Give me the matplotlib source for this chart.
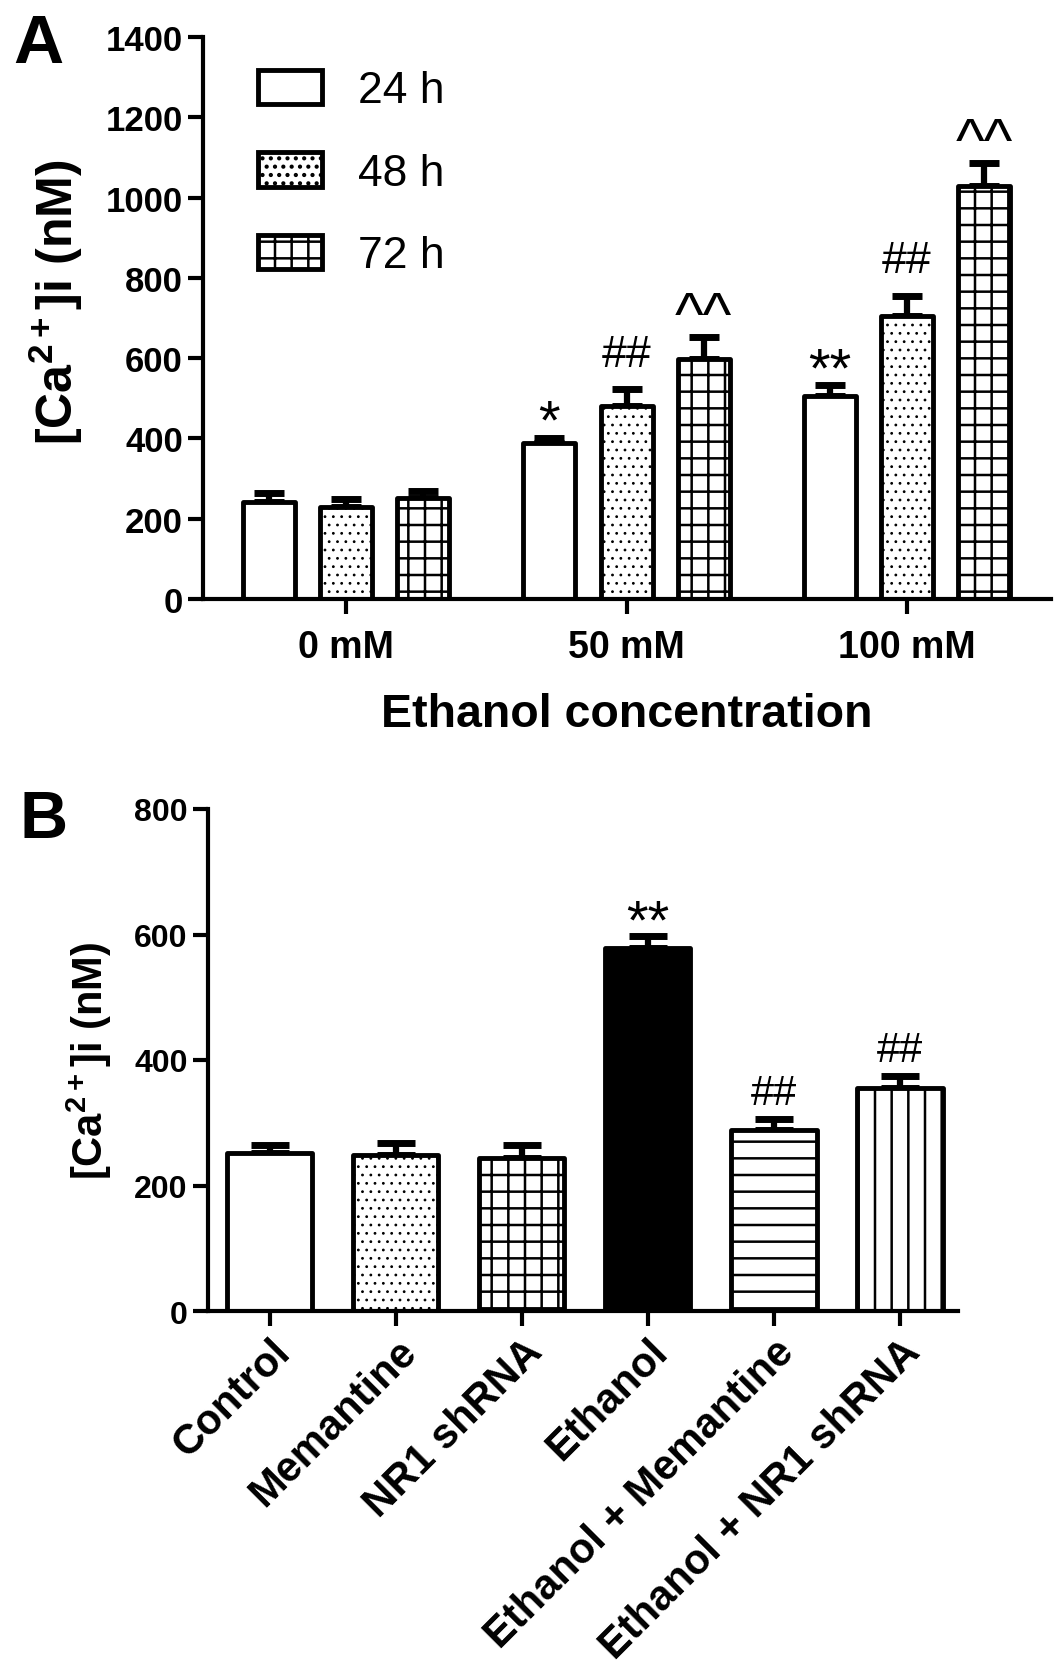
import matplotlib
matplotlib.use("agg")
import matplotlib.pyplot as plt
import numpy as np

plt.rcParams['font.family'] = ['Liberation Sans', 'DejaVu Sans']
plt.rcParams['mathtext.fontset'] = 'custom'
plt.rcParams['mathtext.rm'] = 'Liberation Sans'
plt.rcParams['mathtext.bf'] = 'Liberation Sans:bold'
plt.rcParams['hatch.linewidth'] = 1.8
plt.rcParams['hatch.color'] = 'black'

#### panel A data ####
conc_labels = ['0 mM', '50 mM', '100 mM']
time_labels = ['24 h', '48 h', '72 h']
ca_24h = [242, 389, 505]
ca_48h = [228, 480, 706]
ca_72h = [252, 598, 1028]
err_24h = [22, 13, 28]
err_48h = [22, 42, 50]
err_72h = [17, 55, 58]
marks_a = [['', '*', '**'], ['', '##', '##'], ['', '^^', '^^']]

#### panel B data ####
groups_b = ['Control', 'Memantine', 'NR1 shRNA', 'Ethanol',
            'Ethanol + Memantine', 'Ethanol + NR1 shRNA']
ca_b = [252, 248, 244, 578, 288, 355]
err_b = [12, 20, 20, 20, 18, 19]
marks_b = ['', '', '', '**', '##', '##']

W, H = 1063, 1674
fig = plt.figure(figsize=(W/100., H/100.), dpi=100)

LW = 3.5
mark_style = {'*': (40, 0), '**': (40, 0), '##': (32, 17), '^^': (44, 2)}

def fix_hatch(patches, hat):
    # thin outline for the dot pattern, thicker for line patterns
    if hat == '..':
        for p in patches:
            if hasattr(p, 'set_hatch_linewidth'):
                p.set_hatch_linewidth(0.8)

def style_axes(ax, tick_fs):
    for s in ['top', 'right']:
        ax.spines[s].set_visible(False)
    for s in ['left', 'bottom']:
        ax.spines[s].set_linewidth(3)
    ax.tick_params(direction='out', length=10.5, width=3, labelsize=tick_fs, pad=4)
    for lab in ax.get_yticklabels() + ax.get_xticklabels():
        lab.set_fontweight('bold')

#### panel A ####
axA = fig.add_axes([203./W, 1-600./H, (1051-203.)/W, (600-38.)/H])
x = np.arange(len(conc_labels))
off = 0.275
bw = 0.185
series = [(ca_24h, err_24h, ''), (ca_48h, err_48h, '..'), (ca_72h, err_72h, '+')]
handles = []
for j, (vals, errs, hat) in enumerate(series):
    xs = x + (j-1)*off
    axA.errorbar(xs, vals, yerr=[np.zeros(len(vals)), errs], fmt='none',
                 ecolor='black', elinewidth=4.5, capsize=11, capthick=5, zorder=1)
    with plt.rc_context({'hatch.linewidth': 0.8 if hat == '..' else 1.8}):
        b = axA.bar(xs, vals, bw, color='white', edgecolor='black', linewidth=LW,
                    hatch=hat, zorder=2, label=time_labels[j])
    fix_hatch(b, hat)
    for p in b:
        p.set_joinstyle('round')
    handles.append(b)
    for i in range(len(vals)):
        m = marks_a[j][i]
        if m:
            fs, dy = mark_style[m]
            axA.annotate(m, (xs[i], vals[i]+errs[i]), xytext=(0, dy),
                         textcoords='offset points', ha='center', va='baseline',
                         fontsize=fs)
axA.set_xlim(-0.51, 2.513)
axA.set_ylim(0, 1400)
axA.set_yticks(range(0, 1401, 200))
axA.set_xticks(x)
axA.set_xticklabels(conc_labels)
style_axes(axA, 25)
axA.tick_params(axis='x', pad=11)
for lab in axA.get_xticklabels():
    lab.set_fontsize(27)
axA.set_ylabel(r'[Ca$^{\mathbf{2+}}$]i (nM)', fontsize=36, fontweight='bold')
axA.yaxis.set_label_coords(-0.139, 0.53)
axA.set_xlabel('Ethanol concentration', fontsize=33.5, fontweight='bold')
axA.xaxis.set_label_coords(0.5, -0.165)
leg = axA.legend(handles=handles, loc='upper left', bbox_to_anchor=(0.065, 0.942),
                 frameon=False, fontsize=32, handlelength=1.44, handleheight=0.83,
                 labelspacing=0.915, handletextpad=0.8, borderpad=0, borderaxespad=0)

#### panel B ####
axB = fig.add_axes([208./W, 1-1312./H, (958-208.)/W, (1312-810.)/H])
xb = np.arange(len(groups_b))
hatches_b = ['', '..', '+', '', '-', '|']
faces_b = ['white', 'white', 'white', 'black', 'white', 'white']
axB.errorbar(xb, ca_b, yerr=[np.zeros(len(ca_b)), err_b], fmt='none',
             ecolor='black', elinewidth=4.5, capsize=14, capthick=5, zorder=1)
for i in range(len(groups_b)):
    hat = hatches_b[i]
    with plt.rc_context({'hatch.linewidth': 0.8 if hat == '..' else 1.8}):
        b = axB.bar(xb[i], ca_b[i], 0.675, color=faces_b[i], edgecolor='black',
                    linewidth=LW, hatch=hat, zorder=2)
    fix_hatch(b, hat)
    b[0].set_joinstyle('round')
    m = marks_b[i]
    if m:
        fs, dy = {'**': (40, -1.5), '##': (30, 11)}[m]
        axB.annotate(m, (xb[i], ca_b[i]+err_b[i]), xytext=(0, dy),
                     textcoords='offset points', ha='center', va='baseline',
                     fontsize=fs)
axB.set_xlim(-0.49, 5.46)
axB.set_ylim(0, 800)
axB.set_yticks(range(0, 801, 200))
axB.set_xticks(xb)
axB.set_xticklabels(groups_b, rotation=45, ha='right', rotation_mode='anchor')
style_axes(axB, 23)
for lab in axB.get_xticklabels():
    lab.set_fontsize(30)
axB.set_ylabel(r'[Ca$^{\mathbf{2+}}$]i (nM)', fontsize=30, fontweight='bold')
axB.yaxis.set_label_coords(-0.125, 0.5)

fig.text(13./W, 1-13./H, 'A', fontsize=50, fontweight='bold', va='top', ha='left')
fig.text(20./W, 1-790./H, 'B', fontsize=48, fontweight='bold', va='top', ha='left')

plt.savefig("out.png", dpi=100)
